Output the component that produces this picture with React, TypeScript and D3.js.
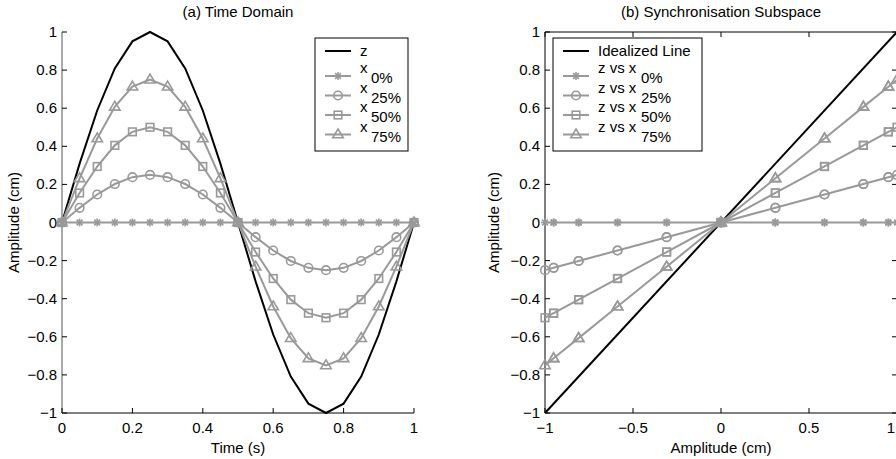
import React from "react";
import * as d3 from "d3";

const timeS = [0, 0.05, 0.1, 0.15, 0.2, 0.25, 0.3, 0.35, 0.4, 0.45, 0.5, 0.55, 0.6, 0.65, 0.7, 0.75, 0.8, 0.85, 0.9, 0.95, 1];
const zVals = [0, 0.309, 0.588, 0.809, 0.951, 1, 0.951, 0.809, 0.588, 0.309, 0, -0.309, -0.588, -0.809, -0.951, -1, -0.951, -0.809, -0.588, -0.309, 0];
const x0Vals = [0, 0, 0, 0, 0, 0, 0, 0, 0, 0, 0, 0, 0, 0, 0, 0, 0, 0, 0, 0, 0];
const x25Vals = [0, 0.077, 0.147, 0.202, 0.238, 0.25, 0.238, 0.202, 0.147, 0.077, 0, -0.077, -0.147, -0.202, -0.238, -0.25, -0.238, -0.202, -0.147, -0.077, 0];
const x50Vals = [0, 0.155, 0.294, 0.405, 0.476, 0.5, 0.476, 0.405, 0.294, 0.155, 0, -0.155, -0.294, -0.405, -0.476, -0.5, -0.476, -0.405, -0.294, -0.155, 0];
const x75Vals = [0, 0.232, 0.441, 0.607, 0.713, 0.75, 0.713, 0.607, 0.441, 0.232, 0, -0.232, -0.441, -0.607, -0.713, -0.75, -0.713, -0.607, -0.441, -0.232, 0];
const idealX = [-1, 1];
const idealY = [-1, 1];

const timeTicks = [0, 0.2, 0.4, 0.6, 0.8, 1];
const ampTicksX = [-1, -0.5, 0, 0.5, 1];
const ampTicksY = [-1, -0.8, -0.6, -0.4, -0.2, 0, 0.2, 0.4, 0.6, 0.8, 1];

const seriesNames = ["0%", "25%", "50%", "75%"];
const seriesData = [x0Vals, x25Vals, x50Vals, x75Vals];
const markerTypes = ["star", "circle", "square", "triangle"];

const GRAY = "#999999";
const FONT = "'Liberation Sans', Arial, Helvetica, sans-serif";
const FS = 15;

function fmt(v: number) {
  const s = String(Math.abs(v));
  return v < 0 ? "\u2212" + s : s;
}

function Marker({ type, x, y }: { type: string; x: number; y: number }) {
  const sw = 1.6;
  if (type === "star") {
    const r = 4;
    const d = r * 0.72;
    return (
      <g stroke={GRAY} strokeWidth={sw} fill="none">
        <line x1={x - r} y1={y} x2={x + r} y2={y} />
        <line x1={x} y1={y - r} x2={x} y2={y + r} />
        <line x1={x - d} y1={y - d} x2={x + d} y2={y + d} />
        <line x1={x - d} y1={y + d} x2={x + d} y2={y - d} />
      </g>
    );
  }
  if (type === "circle") {
    return <circle cx={x} cy={y} r={4.3} stroke={GRAY} strokeWidth={sw} fill="none" />;
  }
  if (type === "square") {
    return <rect x={x - 3.8} y={y - 3.8} width={7.6} height={7.6} stroke={GRAY} strokeWidth={sw} fill="none" />;
  }
  const r = 5.5;
  return (
    <polygon
      points={`${x},${y - r} ${x + r * 0.95},${y + r * 0.6} ${x - r * 0.95},${y + r * 0.6}`}
      stroke={GRAY}
      strokeWidth={sw}
      fill="none"
    />
  );
}

function Panel({
  left, right, top, bottom, xDomain, xTicks, title, xLabel, box, xs, ysList, blackX, blackY, legendLabels, legendX, legendW, subOffset, yLabelX, axisColor,
}: any) {
  const xScale = d3.scaleLinear().domain(xDomain).range([left, right]);
  const yScale = d3.scaleLinear().domain([-1, 1]).range([bottom, top]);
  const line = d3.line<[number, number]>().x((d) => xScale(d[0])).y((d) => yScale(d[1]));
  const tl = 5;
  const blackPts: [number, number][] = blackX.map((v: number, i: number) => [v, blackY[i]]);
  const rowsY = [51, 76, 95.5, 115, 134.5];
  return (
    <g fontFamily={FONT} fontSize={FS}>
      <text x={(left + right) / 2} y={17} textAnchor="middle">{title}</text>
      {/* axes */}
      <line x1={left} y1={bottom} x2={right} y2={bottom} stroke="#000" strokeWidth={1} />
      <line x1={left} y1={top} x2={left} y2={bottom} stroke={axisColor} strokeWidth={1} />
      {box && <line x1={left} y1={top} x2={right} y2={top} stroke="#000" strokeWidth={1} />}
      {box && <line x1={right} y1={top} x2={right} y2={bottom} stroke="#000" strokeWidth={1} />}
      {xTicks.map((v: number) => {
        const px = xScale(v);
        const lx = Math.min(px, 891);
        return (
          <g key={"xt" + v}>
            <line x1={px} y1={bottom} x2={px} y2={bottom - tl} stroke="#000" />
            {box && <line x1={px} y1={top} x2={px} y2={top + tl} stroke="#000" />}
            <text x={lx} y={bottom + 20} textAnchor="middle">{fmt(v)}</text>
          </g>
        );
      })}
      {ampTicksY.map((v: number) => (
        <g key={"yt" + v}>
          <line x1={left} y1={yScale(v)} x2={left + tl} y2={yScale(v)} stroke="#000" />
          {box && <line x1={right} y1={yScale(v)} x2={right - tl} y2={yScale(v)} stroke="#000" />}
          <text x={left - 5} y={yScale(v) + 5} textAnchor="end">{fmt(v)}</text>
        </g>
      ))}
      <text x={(left + right) / 2} y={bottom + 40} textAnchor="middle">{xLabel}</text>
      <text transform={`translate(${yLabelX},${(top + bottom) / 2}) rotate(-90)`} textAnchor="middle">Amplitude (cm)</text>
      {/* data */}
      <path d={line(blackPts) || ""} stroke="#000" strokeWidth={2} fill="none" />
      {ysList.map((ys: number[], si: number) => {
        const pts: [number, number][] = xs.map((v: number, i: number) => [v, ys[i]]);
        return (
          <g key={"s" + si}>
            <path d={line(pts) || ""} stroke={GRAY} strokeWidth={2} fill="none" />
            {pts.map((p, i) => (
              <Marker key={i} type={markerTypes[si]} x={xScale(p[0])} y={yScale(p[1])} />
            ))}
          </g>
        );
      })}
      {/* legend */}
      <rect x={legendX} y={38} width={legendW} height={113} fill="#fff" stroke="#000" strokeWidth={1} />
      <line x1={legendX + 10} y1={rowsY[0]} x2={legendX + 36} y2={rowsY[0]} stroke="#000" strokeWidth={2} />
      <text x={legendX + 45} y={rowsY[0] + 4.5}>{legendLabels[0]}</text>
      {seriesNames.map((n, i) => (
        <g key={"lg" + i}>
          <line x1={legendX + 10} y1={rowsY[i + 1]} x2={legendX + 36} y2={rowsY[i + 1]} stroke={GRAY} strokeWidth={2} />
          <Marker type={markerTypes[i]} x={legendX + 23} y={rowsY[i + 1]} />
          <text x={legendX + 45} y={rowsY[i + 1] - 3}>{legendLabels[1]}</text>
          <text x={legendX + 45 + subOffset} y={rowsY[i + 1] + 7}>{n}</text>
        </g>
      ))}
    </g>
  );
}

export default function App() {
  return (
    <svg width={896} height={459} style={{ display: "block", position: "absolute", left: 0, top: 0 }}>
      <rect width={896} height={459} fill="#fff" />
      <Panel
        left={62} right={414} top={32} bottom={413}
        xDomain={[0, 1]} xTicks={timeTicks}
        title="(a) Time Domain" xLabel="Time (s)" box={false}
        xs={timeS} ysList={seriesData} blackX={timeS} blackY={zVals}
        legendLabels={["z", "x"]} legendX={315} legendW={93} subOffset={11}
        yLabelX={19} axisColor="#555"
      />
      <Panel
        left={545} right={897} top={32} bottom={413}
        xDomain={[-1, 1]} xTicks={ampTicksX}
        title="(b) Synchronisation Subspace" xLabel="Amplitude (cm)" box={true}
        xs={zVals} ysList={seriesData} blackX={idealX} blackY={idealY}
        legendLabels={["Idealized Line", "z vs x"]} legendX={553} legendW={149} subOffset={43}
        yLabelX={499} axisColor="#000"
      />
    </svg>
  );
}
